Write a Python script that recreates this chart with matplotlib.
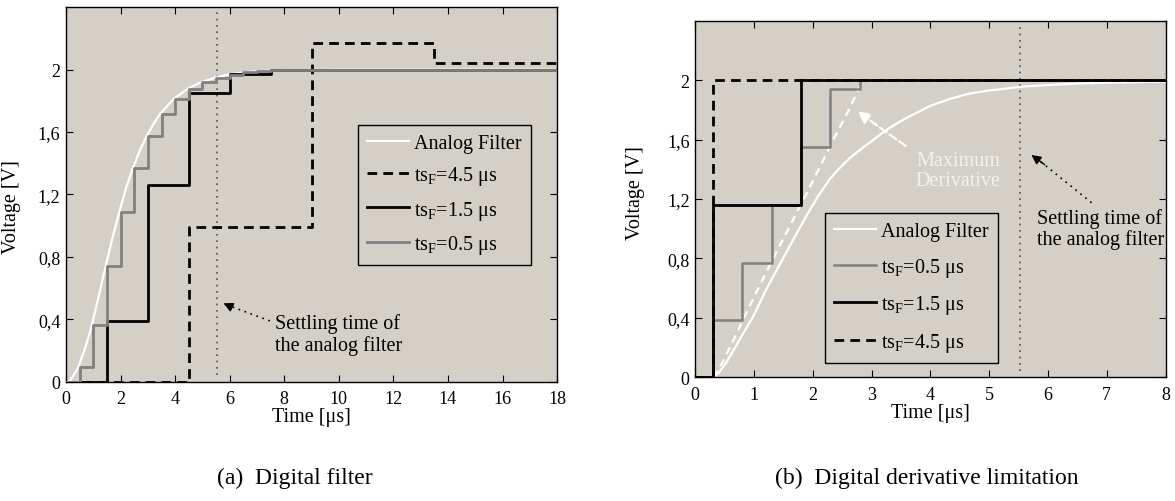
import matplotlib
matplotlib.use("Agg")
import matplotlib.pyplot as plt

plt.rcParams['font.family'] = ['Liberation Serif', 'DejaVu Serif']
plt.rcParams['mathtext.fontset'] = 'custom'
plt.rcParams['mathtext.rm'] = 'Liberation Serif'
plt.rcParams['mathtext.it'] = 'Liberation Serif:italic'

# ---------------- data: (a) Digital filter ----------------
a_analog_t = [0, 0.15, 0.45, 0.7, 0.95, 1.2, 1.45, 1.7, 1.95, 2.2, 2.45, 2.7, 2.95,
              3.2, 3.45, 3.95, 4.45, 4.95, 5.45, 5.95, 6.5, 7.0, 8.0, 10.0, 18.0]
a_analog_v = [0, 0.005, 0.092, 0.215, 0.364, 0.55, 0.74, 0.92, 1.087, 1.24, 1.369, 1.48, 1.572,
              1.65, 1.717, 1.813, 1.877, 1.92, 1.948, 1.969, 1.982, 1.99, 1.997, 2.0, 2.0]
a_ts05_t = [0, 0.5, 1.0, 1.5, 2.0, 2.5, 3.0, 3.5, 4.0, 4.5, 5.0, 5.5, 6.0, 6.5, 7.0, 7.5, 8.0, 18.0]
a_ts05_v = [0, 0.092, 0.364, 0.74, 1.087, 1.369, 1.572, 1.717, 1.813, 1.877, 1.92, 1.948, 1.969,
            1.982, 1.99, 1.996, 2.0, 2.0]
a_ts15_t = [0, 1.5, 3.0, 4.5, 6.0, 7.5, 18.0]
a_ts15_v = [0, 0.391, 1.262, 1.85, 1.974, 1.997, 2.0]
a_ts45_t = [0, 4.5, 9.0, 13.5, 18.0]
a_ts45_v = [0, 0.99, 2.17, 2.04, 1.99]

# ---------------- data: (b) Digital derivative limitation ----------------
b_analog_t = [0, 0.3, 0.4, 0.53, 0.76, 0.99, 1.21, 1.44, 1.67, 1.89, 2.09, 2.29, 2.46, 2.63,
              2.80, 2.97, 3.14, 3.31, 3.48, 3.65, 3.99, 4.33, 4.67, 5.0, 5.53, 6.0, 6.54,
              7.0, 8.0]
b_analog_v = [0, 0, 0.03, 0.10, 0.257, 0.413, 0.593, 0.761, 0.929, 1.085, 1.22, 1.335, 1.41,
              1.475, 1.53, 1.58, 1.632, 1.68, 1.72, 1.757, 1.825, 1.874, 1.91, 1.93, 1.955,
              1.967, 1.977, 1.983, 1.99]
b_maxder_t = [0.30, 0.45, 0.65, 0.95, 1.30, 1.65, 2.00, 2.30, 2.60, 2.83]
b_maxder_v = [0.0, 0.09, 0.25, 0.50, 0.78, 1.05, 1.32, 1.56, 1.79, 1.98]
b_ts05_t = [0, 0.3, 0.8, 1.3, 1.8, 2.3, 2.8, 8.0]
b_ts05_v = [0, 0.385, 0.772, 1.16, 1.549, 1.937, 2.0, 2.0]
b_ts15_t = [0, 0.3, 1.8, 8.0]
b_ts15_v = [0, 1.16, 2.0, 2.0]
b_ts45_t = [0, 0.3, 8.0]
b_ts45_v = [0, 2.0, 2.0]

settling_time = 5.53

y_ticks = [0, 0.4, 0.8, 1.2, 1.6, 2.0]
y_ticklabels = ['0', '0,4', '0,8', '1,2', '1,6', '2']
a_xticks = list(range(0, 19, 2))
b_xticks = list(range(0, 9, 1))

lbl_analog = 'Analog Filter'
lbl_05 = r'ts$_{\rm F}$=0.5 μs'
lbl_15 = r'ts$_{\rm F}$=1.5 μs'
lbl_45 = r'ts$_{\rm F}$=4.5 μs'

BG = '#d4d0c8'
GRAY = '#808080'
DASH = (0, (3.5, 2.2))
DOT = (0, (1, 2.8))
TICK_FS = 13
TXT_FS = 14.5
CAP_FS = 17

fig = plt.figure(figsize=(11.75, 5.02), dpi=100)
ax1 = fig.add_axes([0.0562, 0.2377, 0.4179, 0.7458])
ax2 = fig.add_axes([0.5917, 0.2466, 0.4003, 0.7102])

for ax in (ax1, ax2):
    ax.set_facecolor(BG)
    ax.set_ylim(0, 2.4)
    ax.set_yticks(y_ticks)
    ax.set_yticklabels(y_ticklabels)
    ax.tick_params(direction='in', top=True, right=True, length=5, width=0.8,
                   labelsize=TICK_FS)
    ax.tick_params(axis='x', pad=6)
    ax.tick_params(axis='y', pad=4)
    for s in ax.spines.values():
        s.set_linewidth(1.0)
        s.set_color('black')

legend_kw = dict(fontsize=TXT_FS, frameon=True, fancybox=False, edgecolor='black',
                 facecolor=BG, framealpha=1, handlelength=2.1, handletextpad=0.25,
                 borderpad=0.45, borderaxespad=0)

# ---- (a) ----
ax1.set_xlim(0, 18)
ax1.set_xticks(a_xticks)
ax1.plot(a_analog_t, a_analog_v, color='white', lw=1.6, label=lbl_analog, zorder=2)
ax1.step(a_ts45_t, a_ts45_v, where='post', color='black', lw=2.0, linestyle=DASH,
         label=lbl_45, zorder=3)
ax1.step(a_ts15_t, a_ts15_v, where='post', color='black', lw=2.0, label=lbl_15, zorder=4)
ax1.step(a_ts05_t, a_ts05_v, where='post', color=GRAY, lw=2.0, label=lbl_05, zorder=5)
ax1.plot([settling_time, settling_time], [0.04, 2.4], color='#505050', lw=1.2,
         linestyle=DOT, zorder=1.5)
ax1.text(7.65, 0.306, 'Settling time of\nthe analog filter', fontsize=TXT_FS,
         ha='left', va='center', linespacing=1.1)
ax1.plot([7.47, 5.85], [0.39, 0.495], color='black', lw=1.2, linestyle=DOT)
ax1.annotate('', xy=(5.68, 0.51), xytext=(6.05, 0.48),
             arrowprops=dict(arrowstyle='-|>', color='black', lw=1.0, mutation_scale=14))
leg1 = ax1.legend(loc='upper left', bbox_to_anchor=(0.594, 0.685), labelspacing=0.55,
                  **legend_kw)
leg1.get_frame().set_linewidth(1.0)
ax1.set_xlabel('Time [μs]', fontsize=TXT_FS, labelpad=0)
ax1.set_ylabel('Voltage [V]', fontsize=TXT_FS)
ax1.yaxis.set_label_coords(-0.092, 0.47)

# ---- (b) ----
ax2.set_xlim(0, 8)
ax2.set_xticks(b_xticks)
ax2.plot(b_analog_t, b_analog_v, color='white', lw=1.6, label=lbl_analog, zorder=2)
ax2.plot(b_maxder_t, b_maxder_v, color='white', lw=1.6, linestyle=(0, (3.5, 2.5)), zorder=2)
ax2.step(b_ts05_t, b_ts05_v, where='post', color=GRAY, lw=1.8, label=lbl_05, zorder=3)
ax2.step(b_ts45_t, b_ts45_v, where='post', color='black', lw=2.0, linestyle=DASH,
         label=lbl_45, zorder=4)
ax2.step(b_ts15_t, b_ts15_v, where='post', color='black', lw=2.0, label=lbl_15, zorder=5)
ax2.plot([settling_time, settling_time], [0.04, 2.37], color='#505050', lw=1.2,
         linestyle=DOT, zorder=1.5)
ax2.text(4.47, 1.39, 'Maximum\nDerivative', fontsize=TXT_FS, color='#f2f2f2',
         ha='center', va='center', linespacing=1.1)
ax2.annotate('', xy=(2.72, 1.80), xytext=(3.62, 1.545),
             arrowprops=dict(arrowstyle='-|>', color='white', lw=1.6, linestyle='--',
                             mutation_scale=18, fill=True))
ax2.text(5.82, 1.0, 'Settling time of\nthe analog filter', fontsize=TXT_FS,
         ha='left', va='center', linespacing=1.1, clip_on=True)
ax2.plot([6.74, 5.83], [1.175, 1.465], color='black', lw=1.2, linestyle=DOT)
ax2.annotate('', xy=(5.68, 1.507), xytext=(5.98, 1.42),
             arrowprops=dict(arrowstyle='-|>', color='black', lw=1.0, mutation_scale=14))
h, l = ax2.get_legend_handles_labels()
order = [l.index(lbl_analog), l.index(lbl_05), l.index(lbl_15), l.index(lbl_45)]
leg2 = ax2.legend([h[i] for i in order], [l[i] for i in order], loc='upper left',
                  bbox_to_anchor=(0.275, 0.46), labelspacing=0.72, **legend_kw)
leg2.get_frame().set_linewidth(1.0)
ax2.set_xlabel('Time [μs]', fontsize=TXT_FS, labelpad=0)
ax2.set_ylabel('Voltage [V]', fontsize=TXT_FS)
ax2.yaxis.set_label_coords(-0.107, 0.52)

fig.text(0.2511, 0.036, '(a)  Digital filter', fontsize=CAP_FS, ha='center', va='baseline')
fig.text(0.789, 0.036, '(b)  Digital derivative limitation', fontsize=CAP_FS,
         ha='center', va='baseline')

fig.savefig('out.png', dpi=100, facecolor='white')
